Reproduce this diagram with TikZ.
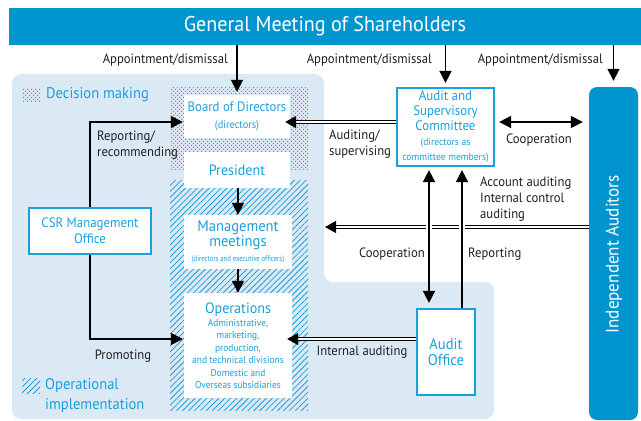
\documentclass[tikz,border=0pt]{standalone}
\usepackage{fontspec}
\setmainfont{PT Sans}[FakeStretch=0.94]
\usetikzlibrary{arrows.meta,patterns.meta,calc}
\definecolor{barblue}{HTML}{0095CF}
\definecolor{txtblue}{HTML}{1AA0DB}
\definecolor{bgblue}{HTML}{DBE9F5}
\definecolor{lblk}{HTML}{231F20}
\newcommand{\fs}[2]{\fontsize{#1}{#2}\selectfont}
\begin{document}
\begin{tikzpicture}[x=1pt,y=-1pt,
  box/.style={draw=txtblue, line width=2.2pt, fill=white, inner sep=0pt, text=txtblue, align=center},
  wbox/.style={fill=white, inner sep=0pt, text=txtblue, align=center},
  arr/.style={draw=black, line width=1.6pt, -{Triangle[length=12pt,width=12pt]}},
  darr/.style={draw=black, line width=1.6pt, {Triangle[length=12pt,width=12pt]}-{Triangle[length=12pt,width=12pt]}},
  dbl/.style={draw=black, double=white, double distance=2pt, line width=1pt, -{Triangle[length=11pt,width=12pt]}},
  lab/.style={text=lblk, font=\fs{13.5}{16}, inner sep=0pt, align=left},
  leg/.style={text=txtblue, font=\fs{15.5}{20}, inner sep=0pt, align=left},
  dots/.style={pattern={Dots[distance=4pt,radius=0.8pt]}, pattern color=txtblue},
  dots2/.style={pattern={Dots[distance=4pt,radius=0.8pt,xshift=2pt,yshift=2pt]}, pattern color=txtblue},
  hatch/.style={pattern={Lines[angle=45,distance=4.2pt,line width=0.8pt]}, pattern color=txtblue}
]
\useasboundingbox (0,0) rectangle (641,421);
% background region
\fill[bgblue, rounded corners=9pt] (12,74) -- (324,74) -- (324,282) -- (494,282) -- (494,419) -- (12,419) -- cycle;
% pattern regions
\fill[dots] (170,87) rectangle (308,169);
\fill[dots2] (170,87) rectangle (308,169);
\fill[hatch] (170,180) rectangle (308,410);
% legend
\fill[dots] (22,88) rectangle (40,101);
\fill[dots2] (22,88) rectangle (40,101);
\node[leg, anchor=west] (legdm) at (46,95) {Decision making};
\fill[hatch] (22,378) rectangle (40,393);
\node[leg, anchor=west] (legoi) at (45,396) {Operational\\implementation};

% top bar
\node[fill=barblue, text=white, minimum width=632pt, minimum height=37pt, inner sep=0pt, font=\fs{21.4}{24}] (gm) at (325,26.5) {General Meeting of Shareholders};
% independent auditors
\node[fill=barblue, rounded corners=8pt, minimum width=49pt, minimum height=333pt, inner sep=0pt] (ia) at (613.5,253.5) {};
\node[rotate=90, text=white, font=\fs{18.2}{22}, inner sep=0pt] (iat) at (614,254.5) {Independent Auditors};

% boxes
\node[wbox, minimum width=106pt, minimum height=43pt, font=\fs{13.6}{17}] (board) at (237,116.5) {Board of Directors\\\fs{11}{12}(directors)};
\node[wbox, minimum width=106pt, minimum height=36pt, font=\fs{15}{17}] (pres) at (237,170) {President};
\node[wbox, minimum width=108pt, minimum height=54pt, font=\fs{15.5}{15}] (mgmt) at (238,242) {Management\\meetings\\\fs{8}{10}\scalebox{0.89}[1]{(directors and executive officers)}};
\node[wbox, minimum width=108pt, minimum height=105pt, font=\fs{10}{12.4}] (ops) at (238,345.5) {\fs{15}{17}Operations\\[1pt]Administrative,\\marketing,\\production,\\and technical divisions\\Domestic and\\Overseas subsidiaries};
\node[box, minimum width=97pt, minimum height=78pt, font=\fs{13.8}{15}] (asc) at (445.5,127) {Audit and\\Supervisory\\Committee\\[0pt]\fs{10.2}{11.5}(directors as\\\fs{10.2}{11.5}committee members)};
\node[box, minimum width=122pt, minimum height=46pt, font=\fs{13.7}{16}] (csr) at (90,231) {CSR Management\\Office};
\node[box, minimum width=58pt, minimum height=86pt, font=\fs{15.5}{16.5}] (ao) at (446,352) {Audit\\Office};

% arrows from top bar
\draw[arr, shorten >=3pt] (gm.south -| board.north) -- (board.north);
\draw[arr, shorten >=4pt] (gm.south -| asc.north) -- (asc.north);
\draw[arr, shorten >=6pt] (gm.south -| ia.north) -- (ia.north);
\node[lab, anchor=east] (l1) at (228,60) {Appointment/dismissal};
\node[lab, anchor=east] (l2) at (432,60) {Appointment/dismissal};
\node[lab, anchor=east] (l3) at (603,60) {Appointment/dismissal};

% auditing/supervising
\coordinate (ascw) at ([yshift=5pt]asc.west);
\draw[dbl, shorten >=-5pt] (ascw) -- (board.east |- ascw);
\node[lab, anchor=north west] (l4) at (329,130) {Auditing/\\supervising};
% cooperation with IA
\coordinate (asce) at ([yshift=5pt]asc.east);
\draw[darr, shorten <=4pt, shorten >=6pt] (asce) -- (ia.west |- asce);
\node[lab] (l5) at (539,140) {Cooperation};

% IA account auditing double line
\coordinate (iaend) at (325,227);
\draw[dbl] (ia.west |- iaend) -- (iaend);
\node[lab, anchor=north west] (l6) at (480,177) {Account auditing\\Internal control\\auditing};
% masks at crossings
\fill[white] (426,222) rectangle (432,232);
\fill[white] (459,222) rectangle (465,232);

% committee <-> audit office
\coordinate (c1) at (429,0);
\coordinate (c2) at (462,0);
\draw[darr, shorten <=3pt, shorten >=5pt] (c1 |- asc.south) -- (c1 |- ao.north);
\draw[arr, shorten >=3pt] (c2 |- ao.north) -- (c2 |- asc.south);
\node[lab, anchor=east] (l7) at (425,254) {Cooperation};
\node[lab, anchor=west] (l8) at (468,254) {Reporting};

% internal auditing
\coordinate (aow) at ([yshift=13pt]ao.west);
\draw[dbl, shorten >=-5pt] (aow) -- (ops.east |- aow);
\node[lab] (l9) at (362,352) {Internal auditing};

% CSR arrows
\draw[arr, shorten >=1pt] (csr.north) |- ([yshift=-5.5pt]board.west);
\node[lab, anchor=north west] (l10) at (97,131) {Reporting/\\recommending};
\draw[arr, shorten >=1pt] (csr.south) |- ([yshift=6.5pt]ops.west);
\node[lab] (l11) at (123,356) {Promoting};

% chain
\draw[arr] (pres.south -| mgmt.north) -- (mgmt.north);
\draw[arr] (mgmt.south) -- (ops.north);
\end{tikzpicture}
\end{document}
